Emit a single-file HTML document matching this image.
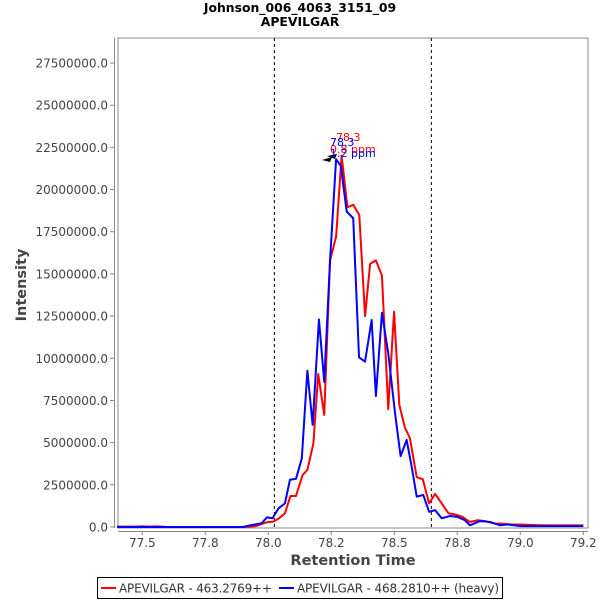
<!DOCTYPE html>
<html><head><meta charset="utf-8"><style>
body{margin:0;background:#fff;width:600px;height:600px;overflow:hidden}
svg text{font-family:"DejaVu Sans","Liberation Sans",sans-serif}
</style></head><body>
<svg width="600" height="600">
<text x="300" y="12" text-anchor="middle" font-size="12.4" font-weight="bold">Johnson_006_4063_3151_09</text>
<text x="300" y="26" text-anchor="middle" font-size="12.4" font-weight="bold">APEVILGAR</text>
<rect x="118" y="38" width="470" height="490" fill="#fff" stroke="#888"/>
<line x1="114.5" y1="38" x2="114.5" y2="528" stroke="#888"/>
<line x1="118" y1="531.5" x2="588" y2="531.5" stroke="#888"/>
<g id="yt"></g><g id="xt"></g><g id="marks"></g>
<text x="353" y="565" text-anchor="middle" font-size="14.5" font-weight="bold" fill="#444">Retention Time</text>
<text transform="translate(26,285) rotate(-90)" text-anchor="middle" font-size="14.5" font-weight="bold" fill="#444">Intensity</text>
<g>
<rect x="97.5" y="577.5" width="405" height="21" fill="#fff" stroke="#000"/>
<line x1="101" y1="588" x2="116" y2="588" stroke="#f00" stroke-width="2"/>
<text x="119" y="592.5" font-size="12" fill="#333" textLength="153">APEVILGAR - 463.2769++</text>
<line x1="279" y1="588" x2="294" y2="588" stroke="#00f" stroke-width="2"/>
<text x="297" y="592.5" font-size="12" fill="#333" textLength="202">APEVILGAR - 468.2810++ (heavy)</text>
</g>
</svg>
<script>
const yTicks=[0,2500000,5000000,7500000,10000000,12500000,15000000,17500000,20000000,22500000,25000000,27500000];
const xTicks=[77.5,77.75,78.0,78.25,78.5,78.75,79.0,79.25];
const xTickLabels=["77.5","77.8","78.0","78.2","78.5","78.8","79.0","79.2"];
const boundaries=[78.024,78.647];
const redT=[77.40,77.47,77.5,77.53,77.56,77.6,77.7,77.8,77.9,77.95,77.974,77.994,78.020,78.043,78.066,78.088,78.110,78.136,78.155,78.179,78.198,78.222,78.245,78.269,78.291,78.314,78.337,78.361,78.384,78.404,78.427,78.451,78.476,78.499,78.520,78.542,78.562,78.589,78.613,78.638,78.662,78.688,78.715,78.74,78.77,78.80,78.83,78.86,78.90,78.93,78.96,79.0,79.05,79.1,79.15,79.2,79.25];
const redI=[30000,20000,40000,20000,40000,0,0,0,0,50000,180000,280000,320000,520000,810000,1840000,1840000,3080000,3380000,4960000,9070000,6640000,15800000,17200000,22000000,18950000,19100000,18500000,12500000,15600000,15800000,14900000,6980000,12760000,7230000,5900000,5260000,2950000,2830000,1400000,1960000,1400000,810000,750000,600000,300000,400000,350000,200000,200000,150000,150000,120000,100000,100000,100000,100000];
const blueT=[77.40,77.6,77.8,77.9,77.927,77.974,77.994,78.017,78.040,78.066,78.086,78.110,78.133,78.155,78.176,78.201,78.222,78.245,78.269,78.288,78.311,78.337,78.360,78.384,78.410,78.427,78.451,78.476,78.503,78.525,78.549,78.569,78.589,78.615,78.638,78.662,78.688,78.721,78.75,78.78,78.80,78.84,78.88,78.92,78.95,79.0,79.05,79.1,79.15,79.2,79.25];
const blueI=[0,0,0,0,100000,220000,570000,520000,1100000,1400000,2800000,2860000,4070000,9260000,6050000,12300000,8600000,15800000,21800000,21400000,18700000,18300000,10060000,9800000,12270000,7760000,12700000,10300000,6740000,4200000,5160000,3570000,1800000,1900000,900000,1000000,520000,650000,600000,400000,100000,350000,300000,100000,150000,50000,50000,50000,50000,50000,50000];
const X=t=>268.3+(t-78)*252;
const Y=v=>527-v/2500000*42.18;
const NS="http://www.w3.org/2000/svg";
function mk(tag,attrs,parent){const e=document.createElementNS(NS,tag);for(const k in attrs)e.setAttribute(k,attrs[k]);document.getElementById(parent).appendChild(e);return e;}
yTicks.forEach(v=>{const y=Y(v);
const l=mk('line',{x1:110,x2:114,y1:y,y2:y,stroke:'#888'},'yt');


const t=mk('text',{x:108,y:y+4.5,'text-anchor':'end','font-size':12,fill:'#444'},'yt');t.textContent=v.toFixed(1);

});
xTicks.forEach((v,i)=>{const x=X(v);
const l=mk('line',{x1:x,x2:x,y1:531,y2:535,stroke:'#888'},'xt');


const t=mk('text',{x:x,y:547,'text-anchor':'middle','font-size':12,fill:'#444'},'xt');t.textContent=xTickLabels[i];

});
boundaries.forEach(b=>{const l=mk('line',{x1:X(b),x2:X(b),y1:38,y2:528,stroke:'#000','stroke-dasharray':'3,3'},'marks');

});
function series(T,I,c,name){const p=mk('polyline',{points:T.map((t,i)=>X(t)+','+Y(I[i])).join(' '),fill:'none',stroke:c,'stroke-width':2,'stroke-linejoin':'round'},'marks');

}
series(redT,redI,'#f00','series-light');
series(blueT,blueI,'#00f','series-heavy');
const a1=mk('polygon',{points:'322,160 332,157 330,162',fill:'#000'},'marks');


const a2=mk('polygon',{points:'327,156 337,154 335,159',fill:'#000'},'marks');


[['78.3',336,141,'#f00'],['0.8 ppm',330,153,'#f00'],['78.3',330,146,'#00f'],['1.2 ppm',330,157,'#00f']].forEach(a=>{const t=mk('text',{x:a[1],y:a[2],'font-size':11,fill:a[3]},'marks');t.textContent=a[0];

});
</script>
</body></html>
